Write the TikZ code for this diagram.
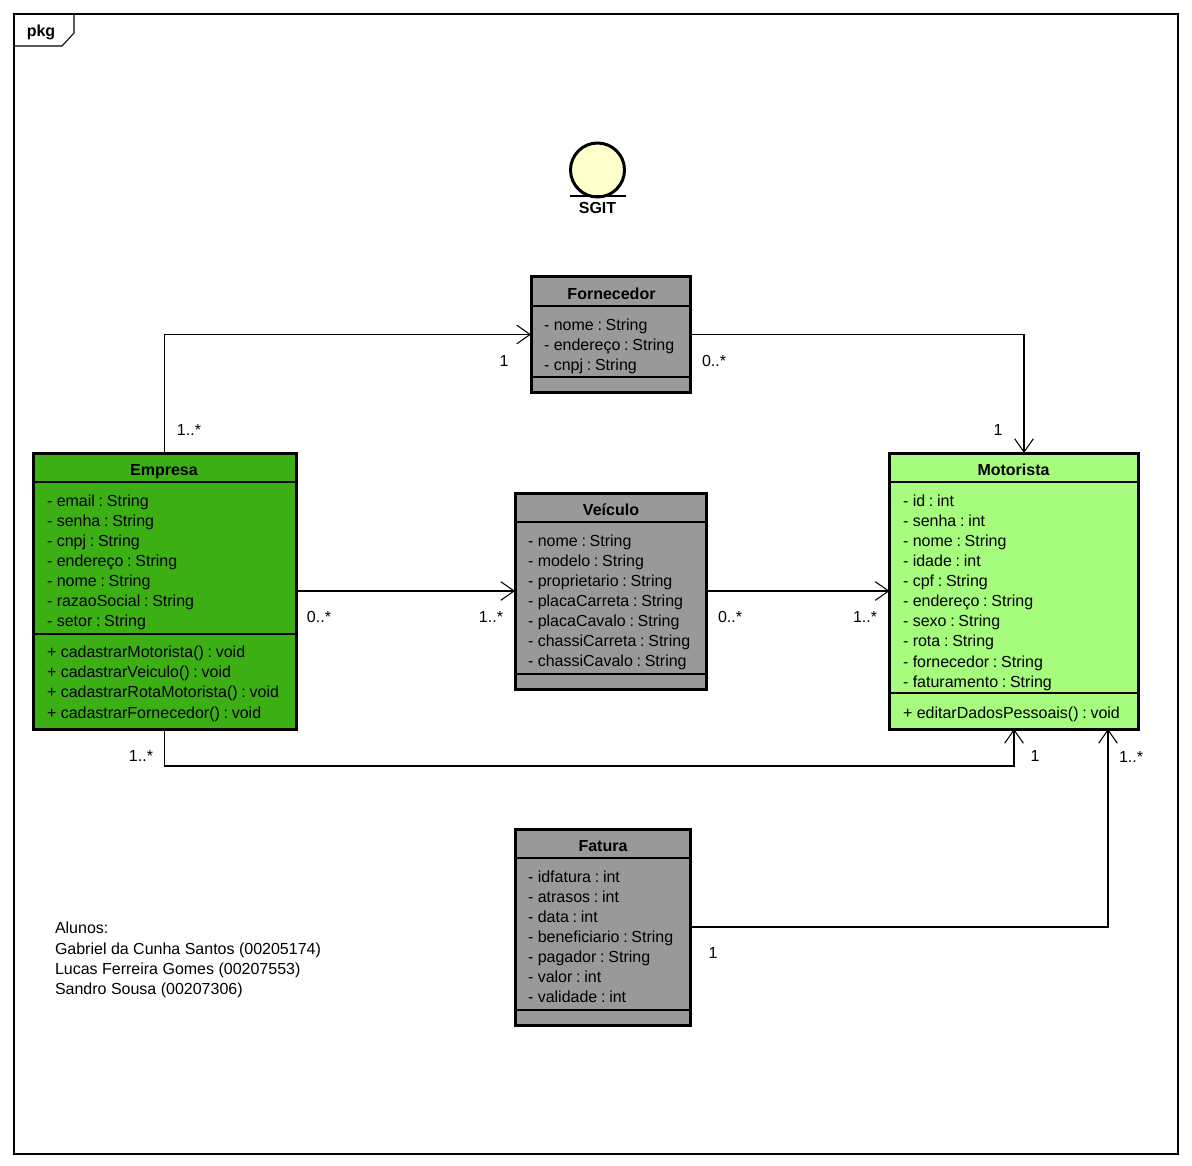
\documentclass[tikz,border=0pt]{standalone}
\usepackage{fontspec}
\setmainfont{Liberation Sans}
\usetikzlibrary{arrows.meta}
\definecolor{empresagreen}{RGB}{60,175,20}
\definecolor{motoristagreen}{RGB}{166,252,124}
\definecolor{classgray}{RGB}{153,153,153}
\definecolor{actorfill}{RGB}{255,255,204}
\newcommand{\tp}{\kern2.8pt:\kern2.8pt}
\begin{document}
\begin{tikzpicture}[
        x=0.75pt, y=-0.75pt,
        every node/.style={font=\fontsize{12}{15}\selectfont, inner sep=0pt, outer sep=0pt},
        classbox/.style={rectangle, draw, line width=2.25pt},
        title/.style={font=\fontsize{12}{15}\selectfont\bfseries, text height=8.6pt, text depth=0pt, yshift=-0.6pt},
        members/.style={anchor=north west, align=left},
        divider/.style={line width=0.85pt},
        assoc/.style={-{Straight Barb[length=10pt,width=14pt,line width=0.8pt]}, line width=0.8pt},
        mult/.style={text height=8.6pt, text depth=0pt, yshift=-0.6pt}
        ]
      \useasboundingbox (0,0) rectangle (1192,1166);

      % frame
      \node[rectangle, draw, line width=0.8pt, minimum width=873pt, minimum height=855pt] (frame) at (596,584) {};
      \coordinate (tabA) at (14,46);
      \coordinate (tabB) at (62,46);
      \coordinate (tabC) at (74,33);
      \coordinate (tabD) at (74,14);
      \draw[line width=0.8pt] (tabA) -- (tabB) -- (tabC) -- (tabD);
      \node[title] (pkg) at (41,30) {pkg};

      % actor
      \node[circle, draw, fill=actorfill, line width=2.25pt, minimum size=40.5pt] (sgit) at (597.5,170) {};
      \draw[line width=1.8pt] ([xshift=-21pt,yshift=0.75pt]sgit.south) -- ([xshift=21pt,yshift=0.75pt]sgit.south);
      \node[title] (sgitlabel) at (597.5,207) {SGIT};

      % classes
      \node[classbox, fill=classgray, minimum width=119.25pt, minimum height=86.25pt] (fornecedor) at (610.5,334.5) {};
      \node[classbox, fill=empresagreen, minimum width=197.25pt, minimum height=207pt] (empresa) at (165,591) {};
      \node[classbox, fill=classgray, minimum width=143.25pt, minimum height=147pt] (veiculo) at (610.5,591) {};
      \node[classbox, fill=motoristagreen, minimum width=186.75pt, minimum height=207pt] (motorista) at (1014,591) {};
      \node[classbox, fill=classgray, minimum width=131.25pt, minimum height=147pt] (fatura) at (602.5,927) {};

      \node[title] (fornecedortitle) at (611.5,293) {Fornecedor};
      \node[title] (empresatitle) at (164,469) {Empresa};
      \node[title] (veiculotitle) at (611,509) {Veículo};
      \node[title] (motoristatitle) at (1013.5,469) {Motorista};
      \node[title] (faturatitle) at (603,845) {Fatura};

      \draw[divider] (fornecedor.west |- 0,306) -- (fornecedor.east |- 0,306);
      \draw[divider] (fornecedor.west |- 0,377) -- (fornecedor.east |- 0,377);
      \draw[divider] (empresa.west |- 0,482) -- (empresa.east |- 0,482);
      \draw[divider] (empresa.west |- 0,634) -- (empresa.east |- 0,634);
      \draw[divider] (veiculo.west |- 0,522) -- (veiculo.east |- 0,522);
      \draw[divider] (veiculo.west |- 0,674) -- (veiculo.east |- 0,674);
      \draw[divider] (motorista.west |- 0,482) -- (motorista.east |- 0,482);
      \draw[divider] (motorista.west |- 0,693) -- (motorista.east |- 0,693);
      \draw[divider] (fatura.west |- 0,858) -- (fatura.east |- 0,858);
      \draw[divider] (fatura.west |- 0,1010) -- (fatura.east |- 0,1010);

      \node[members] (fornecedorattrs) at (544,319) {- nome\tp String\\- endereço\tp String\\- cnpj\tp String};
      \node[members] (empresaattrs) at (47,495) {- email\tp String\\- senha\tp String\\- cnpj\tp String\\- endereço\tp String\\- nome\tp String\\- razaoSocial\tp String\\- setor\tp String};
      \node[members] (empresaops) at (47,646) {+ cadastrarMotorista()\tp void\\+ cadastrarVeiculo()\tp void\\+ cadastrarRotaMotorista()\tp void\\[0.75pt]+ cadastrarFornecedor()\tp void};
      \node[members] (veiculoattrs) at (528,535) {- nome\tp String\\- modelo\tp String\\- proprietario\tp String\\- placaCarreta\tp String\\- placaCavalo\tp String\\- chassiCarreta\tp String\\- chassiCavalo\tp String};
      \node[members] (motoristaattrs) at (903,495) {- id\tp int\\- senha\tp int\\- nome\tp String\\- idade\tp int\\- cpf\tp String\\- endereço\tp String\\- sexo\tp String\\- rota\tp String\\[0.75pt]- fornecedor\tp String\\- faturamento\tp String};
      \node[members] (motoristaops) at (903,707) {+ editarDadosPessoais()\tp void};
      \node[members] (faturaattrs) at (528,871) {- idfatura\tp int\\- atrasos\tp int\\- data\tp int\\- beneficiario\tp String\\- pagador\tp String\\- valor\tp int\\- validade\tp int};
      \node[members] (alunos) at (55,922) {Alunos:\\[0.75pt]Gabriel da Cunha Santos (00205174)\\Lucas Ferreira Gomes (00207553)\\Sandro Sousa (00207306)};

      % associations
      \draw[assoc] ([xshift=-0.4pt]empresa.north) |- (fornecedor.west);
      \draw[assoc] (fornecedor.east) -| ([xshift=7.5pt]motorista.north);
      \draw[assoc] (empresa.east) -- (veiculo.west);
      \draw[assoc] (veiculo.east) -- (motorista.west);
      \draw[assoc] ([xshift=-0.4pt]empresa.south) |- (motorista.south |- 0,766) -- (motorista.south);
      \draw[assoc] (fatura.east) -| ([xshift=70.5pt]motorista.south);

      % multiplicities
      \node[mult] (m1) at (504,360) {1};
      \node[mult] (m2) at (714,360) {0..*};
      \node[mult] (m3) at (189,429) {1..*};
      \node[mult] (m4) at (998,429) {1};
      \node[mult] (m5) at (319,616) {0..*};
      \node[mult] (m6) at (491,616) {1..*};
      \node[mult] (m7) at (730,616) {0..*};
      \node[mult] (m8) at (865,616) {1..*};
      \node[mult] (m9) at (141,755) {1..*};
      \node[mult] (m10) at (1035,755) {1};
      \node[mult] (m11) at (1131,756) {1..*};
      \node[mult] (m12) at (713,952) {1};
\end{tikzpicture}
\end{document}
